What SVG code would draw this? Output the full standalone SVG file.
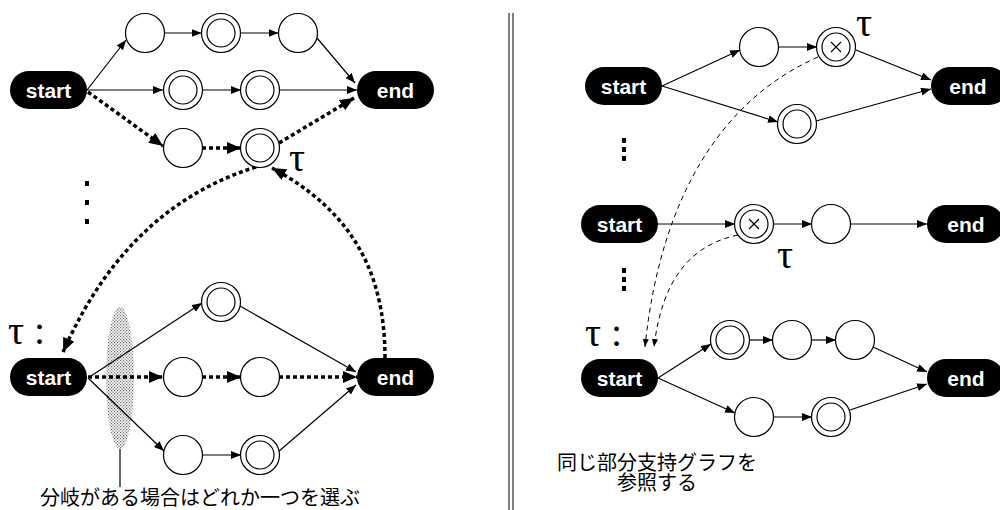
<svg xmlns="http://www.w3.org/2000/svg" width="1000" height="510" viewBox="0 0 1000 510">
<style>
.pill{fill:#000}
.pt{fill:#fff;font-family:"Liberation Sans",Arial,sans-serif;font-weight:bold;font-size:21px;text-anchor:middle}
.c{fill:#fff;stroke:#000;stroke-width:1.2}
.ci{fill:none;stroke:#000;stroke-width:1.2}
.e{fill:none;stroke:#000;stroke-width:1.2;marker-end:url(#a)}
.d{fill:none;stroke:#000;stroke-width:3.5;stroke-dasharray:4 3;marker-end:url(#ab)}
.ds{fill:none;stroke:#000;stroke-width:1;stroke-dasharray:5 4;marker-end:url(#as)}
.tau{font-family:"Liberation Serif","Times New Roman",serif;font-size:40px;fill:#000}
.jp{font-family:"Liberation Sans","Noto Sans CJK JP",sans-serif;font-size:20px;fill:#000}
</style>
<defs>
<marker id="a" markerUnits="userSpaceOnUse" markerWidth="12" markerHeight="10" refX="10" refY="4" orient="auto"><path d="M0,0 L10,4 L0,8 Z" fill="#000"/></marker>
<marker id="ab" markerUnits="userSpaceOnUse" markerWidth="16" markerHeight="14" refX="14" refY="6" orient="auto"><path d="M0,0 L14,6 L0,12 Z" fill="#000"/></marker>
<marker id="as" markerUnits="userSpaceOnUse" markerWidth="10" markerHeight="8" refX="8" refY="3" orient="auto"><path d="M0,0 L8,3 L0,6 Z" fill="#000"/></marker>
<pattern id="stip" width="3" height="3" patternUnits="userSpaceOnUse"><rect x="0" y="0" width="1.2" height="1.2" fill="#666"/><rect x="1.5" y="1.5" width="1.2" height="1.2" fill="#666"/></pattern>
</defs>

<!-- divider -->
<line x1="509" y1="13" x2="509" y2="510" stroke="#000" stroke-width="1"/>
<line x1="513" y1="13" x2="513" y2="510" stroke="#000" stroke-width="1"/>

<!-- stipple ellipse & pointer -->
<ellipse id="choice-region" cx="120" cy="378" rx="14" ry="71" fill="url(#stip)"/>
<line x1="120" y1="449" x2="120" y2="487" stroke="#000" stroke-width="1.2"/>

<g id="connectors">
<!-- left top -->
<line class="e" x1="87" y1="90" x2="126" y2="40"/>
<line class="e" x1="87" y1="90" x2="163" y2="90"/>
<line class="e" x1="164.5" y1="33" x2="201.5" y2="33"/>
<line class="e" x1="240.5" y1="33" x2="278.5" y2="33"/>
<line class="e" x1="317" y1="38" x2="355" y2="83"/>
<line class="e" x1="202" y1="90" x2="241" y2="90"/>
<line class="e" x1="279" y1="90" x2="357" y2="90"/>
<line class="d" x1="88" y1="92" x2="163" y2="146"/>
<line class="d" x1="202" y1="148" x2="241" y2="148"/>
<line class="d" x1="279" y1="143" x2="354" y2="98"/>
<path class="d" d="M385,358 C385,270 350,210 272,168"/>
<path class="d" d="M256,167 C150,200 95,280 63,352"/>
<!-- left bottom -->
<line class="e" x1="88" y1="378" x2="202" y2="303"/>
<line class="e" x1="88" y1="378" x2="164" y2="451"/>
<line class="d" x1="88" y1="377" x2="163" y2="377"/>
<line class="d" x1="202" y1="377" x2="241" y2="377"/>
<line class="d" x1="279" y1="377" x2="357" y2="377"/>
<line class="e" x1="240" y1="306" x2="356" y2="372"/>
<line class="e" x1="202" y1="455" x2="241" y2="455"/>
<line class="e" x1="278" y1="452" x2="356" y2="385"/>
<!-- right top -->
<line class="e" x1="662" y1="86" x2="740" y2="50"/>
<line class="e" x1="662" y1="86" x2="778" y2="122"/>
<line class="e" x1="778.5" y1="47" x2="817" y2="47"/>
<line class="e" x1="856" y1="50" x2="931" y2="80"/>
<line class="e" x1="816" y1="121" x2="931" y2="89"/>
<!-- right middle -->
<line class="e" x1="658" y1="224" x2="735" y2="224"/>
<line class="e" x1="773" y1="224" x2="812" y2="224"/>
<line class="e" x1="850" y1="224" x2="927" y2="224"/>
<!-- right bottom -->
<line class="e" x1="658" y1="378" x2="711" y2="344"/>
<line class="e" x1="658" y1="378" x2="735" y2="413"/>
<line class="e" x1="749.5" y1="340" x2="773" y2="340"/>
<line class="e" x1="811.5" y1="340" x2="836" y2="340"/>
<line class="e" x1="873" y1="347" x2="927" y2="372"/>
<line class="e" x1="773.5" y1="417" x2="812" y2="417"/>
<line class="e" x1="850" y1="410" x2="927" y2="384"/>
<!-- dashed references -->
<path class="ds" d="M818,57 C720,100 660,200 645,347"/>
<path class="ds" d="M738,235 C690,245 662,280 654,347"/>
</g>

<!-- ellipsis dots -->
<g id="ellipsis">
<rect x="85" y="181" width="4" height="5"/><rect x="85" y="200" width="4" height="5"/><rect x="85" y="219" width="4" height="5"/>
<rect x="622" y="138" width="4" height="5"/><rect x="622" y="147" width="4" height="5"/><rect x="622" y="156" width="4" height="5"/>
<rect x="622" y="268" width="4" height="5"/><rect x="622" y="277" width="4" height="5"/><rect x="622" y="286" width="4" height="5"/>
</g>

<!-- Left top graph -->
<g id="L1-start"><rect class="pill" x="10" y="71" width="77" height="38" rx="19"/><text class="pt" x="48.5" y="97.5">start</text></g>
<g id="L1-end"><rect class="pill" x="357" y="71" width="77" height="38" rx="19"/><text class="pt" x="395.5" y="97.5">end</text></g>
<g id="L1-a"><circle class="c" cx="145" cy="33" r="19.5"/></g>
<g id="L1-b"><circle class="c" cx="221" cy="33" r="19.5"/><circle class="ci" cx="221" cy="33" r="14"/></g>
<g id="L1-c"><circle class="c" cx="298" cy="33" r="19.5"/></g>
<g id="L1-d"><circle class="c" cx="183" cy="90" r="19.5"/><circle class="ci" cx="183" cy="90" r="14"/></g>
<g id="L1-e"><circle class="c" cx="260" cy="90" r="19.5"/><circle class="ci" cx="260" cy="90" r="14"/></g>
<g id="L1-f"><circle class="c" cx="183" cy="148" r="19.5"/></g>
<g id="L1-g"><circle class="c" cx="260" cy="148" r="19.5"/><circle class="ci" cx="260" cy="148" r="14"/></g>
<text class="tau" x="289" y="171">τ</text>

<!-- Left bottom graph -->
<text class="tau" x="8" y="344">τ :</text>
<g id="L2-start"><rect class="pill" x="10" y="358" width="77" height="38" rx="19"/><text class="pt" x="48.5" y="384.5">start</text></g>
<g id="L2-end"><rect class="pill" x="357" y="358" width="77" height="38" rx="19"/><text class="pt" x="395.5" y="384.5">end</text></g>
<g id="L2-a"><circle class="c" cx="221" cy="302" r="19.5"/><circle class="ci" cx="221" cy="302" r="14"/></g>
<g id="L2-b"><circle class="c" cx="183" cy="377" r="19.5"/></g>
<g id="L2-c"><circle class="c" cx="260" cy="377" r="19.5"/></g>
<g id="L2-d"><circle class="c" cx="183" cy="455" r="19.5"/></g>
<g id="L2-e"><circle class="c" cx="260" cy="455" r="19.5"/><circle class="ci" cx="260" cy="455" r="14"/></g>
<text class="jp" x="40" y="505">分岐がある場合はどれか一つを選ぶ</text>

<!-- Right top graph -->
<g id="R1-start"><rect class="pill" x="585" y="67" width="77" height="38" rx="19"/><text class="pt" x="623.5" y="93.5">start</text></g>
<g id="R1-end"><rect class="pill" x="931" y="67" width="77" height="38" rx="19"/><text class="pt" x="968" y="93.5">end</text></g>
<g id="R1-a"><circle class="c" cx="759" cy="47" r="19.5"/></g>
<g id="R1-b"><circle class="c" cx="836" cy="47" r="19.5"/><circle class="ci" cx="836" cy="47" r="14"/><path d="M831,42 L841,52 M841,42 L831,52" stroke="#000" stroke-width="1.2"/></g>
<g id="R1-c"><circle class="c" cx="797" cy="124" r="19.5"/><circle class="ci" cx="797" cy="124" r="14"/></g>
<text class="tau" x="856" y="36">τ</text>

<!-- Right middle graph -->
<g id="R2-start"><rect class="pill" x="581" y="205" width="77" height="38" rx="19"/><text class="pt" x="619.5" y="231.5">start</text></g>
<g id="R2-end"><rect class="pill" x="927" y="205" width="77" height="38" rx="19"/><text class="pt" x="966" y="231.5">end</text></g>
<g id="R2-a"><circle class="c" cx="754" cy="224" r="19.5"/><circle class="ci" cx="754" cy="224" r="14"/><path d="M749,219 L759,229 M759,219 L749,229" stroke="#000" stroke-width="1.2"/></g>
<g id="R2-b"><circle class="c" cx="831" cy="224" r="19.5"/></g>
<text class="tau" x="777" y="268">τ</text>

<!-- Right bottom graph -->
<text class="tau" x="585" y="346">τ :</text>
<g id="R3-start"><rect class="pill" x="581" y="359" width="77" height="38" rx="19"/><text class="pt" x="619.5" y="385.5">start</text></g>
<g id="R3-end"><rect class="pill" x="927" y="359" width="77" height="38" rx="19"/><text class="pt" x="966" y="385.5">end</text></g>
<g id="R3-a"><circle class="c" cx="730" cy="340" r="19.5"/><circle class="ci" cx="730" cy="340" r="14"/></g>
<g id="R3-b"><circle class="c" cx="792" cy="340" r="19.5"/></g>
<g id="R3-c"><circle class="c" cx="855" cy="340" r="19.5"/></g>
<g id="R3-d"><circle class="c" cx="754" cy="417" r="19.5"/></g>
<g id="R3-e"><circle class="c" cx="831" cy="417" r="19.5"/><circle class="ci" cx="831" cy="417" r="14"/></g>
<text class="jp" x="657" y="470" text-anchor="middle">同じ部分支持グラフを</text>
<text class="jp" x="657" y="490" text-anchor="middle">参照する</text>
</svg>
